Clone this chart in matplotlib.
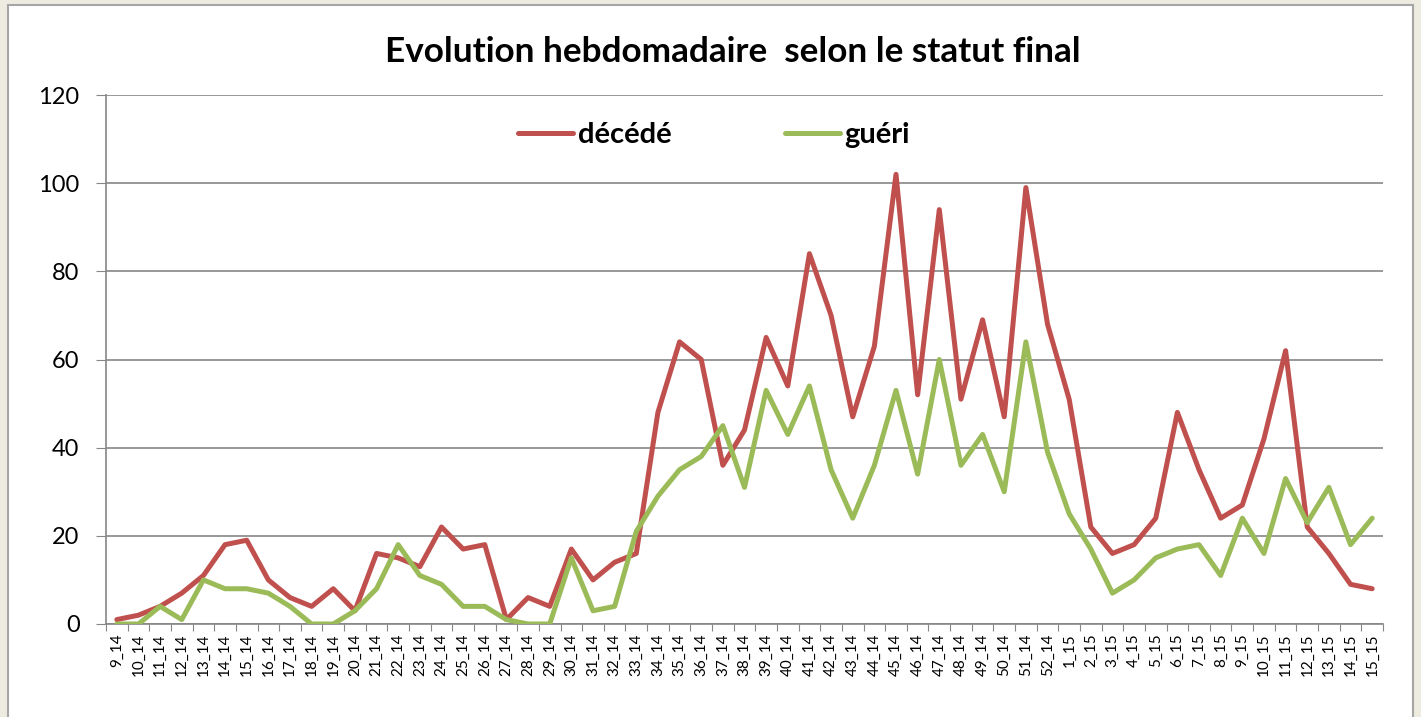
from matplotlib import pyplot as plt
from matplotlib.patches import Rectangle

# weekly categories: weeks 9..52 of 2014, then weeks 1..15 of 2015
weeks = [f"{w}_14" for w in range(9, 53)] + [f"{w}_15" for w in range(1, 16)]

deceased = [1, 2, 4, 7, 11, 18, 19, 10, 6, 4, 8, 3, 16, 15, 13, 22, 17, 18,
            1, 6, 4, 17, 10, 14, 16, 48, 64, 60, 36, 44, 65, 54, 84, 70, 47,
            63, 102, 52, 94, 51, 69, 47, 99, 68,
            51, 22, 16, 18, 24, 48, 35, 24, 27, 42, 62, 22, 16, 9, 8]

recovered = [0, 0, 4, 1, 10, 8, 8, 7, 4, 0, 0, 3, 8, 18, 11, 9, 4, 4,
             1, 0, 0, 15, 3, 4, 21, 29, 35, 38, 45, 31, 53, 43, 54, 35, 24,
             36, 53, 34, 60, 36, 43, 30, 64, 39,
             25, 17, 7, 10, 15, 17, 18, 11, 24, 16, 33, 23, 31, 18, 24]

y_ticks = [0, 20, 40, 60, 80, 100, 120]


def plot_weekly(deceased, recovered):
    """plot the weekly evolution by final status"""
    plt.rcParams["font.family"] = ["Lato", "DejaVu Sans"]
    fig = plt.figure(figsize=(14.21, 7.17), dpi=100, facecolor="#eeece1")
    fig.patches.append(Rectangle((8 / 1421, -0.02), 1405 / 1421, 1.02 - 5 / 717,
                                 transform=fig.transFigure, facecolor="white",
                                 edgecolor="#a6a6a6", linewidth=1.5, zorder=-5))

    ax = fig.add_axes([106 / 1421, 1 - 624 / 717, 1277 / 1421, 529 / 717])
    ax.set_zorder(2)
    ax.set_facecolor("none")
    x = list(range(len(weeks)))
    ax.plot(x, deceased, color="#c0504d", linewidth=3.6, label="décédé",
            solid_joinstyle="round", solid_capstyle="round", zorder=3)
    ax.plot(x, recovered, color="#9bbb59", linewidth=3.6, label="guéri",
            solid_joinstyle="round", solid_capstyle="round", zorder=3)

    ax.set_xlim(-0.5, len(weeks) - 0.5)
    ax.set_ylim(0, 120)
    ax.set_yticks(y_ticks)
    ax.tick_params(axis="y", labelsize=17, length=7, color="#868686", pad=12)
    ax.set_xticks([i - 0.5 for i in range(len(weeks) + 1)])
    ax.set_xticklabels([])
    ax.set_xticks(x, minor=True)
    ax.set_xticklabels(weeks, minor=True, rotation=90, fontsize=11)
    ax.tick_params(axis="x", which="major", length=5, color="#868686")
    ax.tick_params(axis="x", which="minor", length=0, pad=7)
    ax.grid(axis="y", color="#868686", linewidth=1.2)
    ax.set_axisbelow(True)
    for side in ["top", "right"]:
        ax.spines[side].set_visible(False)
    for side in ["left", "bottom"]:
        ax.spines[side].set_color("#868686")
        ax.spines[side].set_linewidth(1.2)

    fig.text(733 / 1421, 1 - 52 / 717, "Evolution hebdomadaire  selon le statut final",
             ha="center", va="center", fontsize=25.3, fontweight="bold")
    ax.legend(loc="center", bbox_to_anchor=(714 / 1421, 1 - 135 / 717),
              bbox_transform=fig.transFigure, ncol=2, frameon=False,
              prop={"size": 21, "weight": "bold"}, handlelength=1.9,
              handletextpad=0.14, columnspacing=3.9)

    fig.savefig("out.png", dpi=100, facecolor=fig.get_facecolor())


def main():
    """build the chart"""
    assert len(deceased) == len(weeks) == len(recovered), "length mismatch"
    plot_weekly(deceased, recovered)


if __name__ == "__main__":
    main()
